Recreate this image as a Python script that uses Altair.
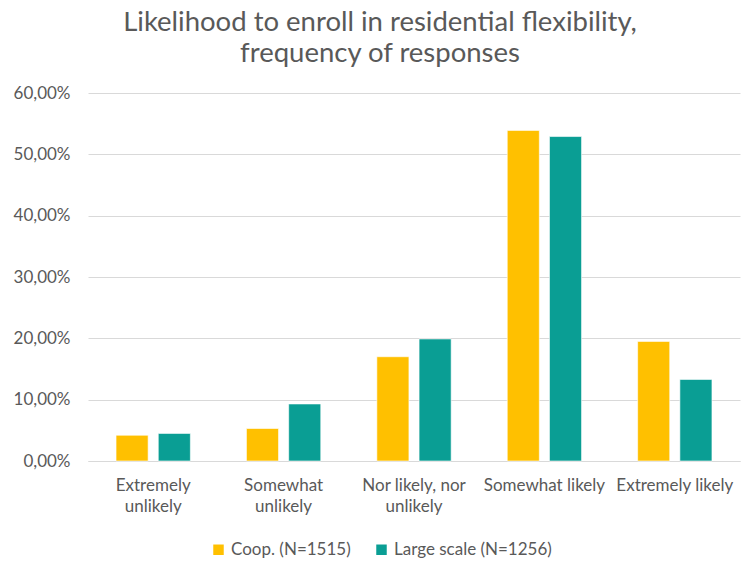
import altair as alt
import pandas as pd

categories = ["Extremely unlikely", "Somewhat unlikely", "Nor likely, nor unlikely",
              "Somewhat likely", "Extremely likely"]
label_lines = [["Extremely", "unlikely"], ["Somewhat", "unlikely"],
               ["Nor likely, nor", "unlikely"], ["Somewhat likely"], ["Extremely likely"]]
series = ["Coop. (N=1515)", "Large scale (N=1256)"]
coop = [0.042, 0.053, 0.170, 0.539, 0.195]
large = [0.045, 0.093, 0.199, 0.529, 0.133]
colors = ["#FFC000", "#0A9E94"]

rows = []
for i, c in enumerate(categories):
    rows.append({"category": c, "series": series[0], "value": coop[i]})
    rows.append({"category": c, "series": series[1], "value": large[i]})
df = pd.DataFrame(rows)

expr = ""
for c, lines in zip(categories, label_lines):
    arr = "[" + ",".join("'" + l + "'" for l in lines) + "]"
    expr += f"datum.value == '{c}' ? {arr} : "
expr += "datum.label"

font = "Lato"
chart = alt.Chart(df).mark_bar(stroke="white", strokeWidth=0.6).encode(
    x=alt.X("category:N", sort=categories, title=None,
            scale=alt.Scale(paddingInner=0.43, paddingOuter=0.215),
            axis=alt.Axis(labelAngle=0, labelExpr=expr, labelFont=font, labelFontSize=17,
                          labelColor="#595959", labelPadding=16, ticks=False,
                          domain=True, domainColor="#d9d9d9", labelLineHeight=21,
                          labelBaseline="top")),
    xOffset=alt.XOffset("series:N", sort=series,
                        scale=alt.Scale(paddingInner=0.24)),
    y=alt.Y("value:Q", title=None,
            scale=alt.Scale(domain=[0, 0.6]),
            axis=alt.Axis(values=[0, 0.1, 0.2, 0.3, 0.4, 0.5, 0.6],
                          labelExpr="replace(format(datum.value, '.2%'), '.', ',')",
                          labelFont=font, labelFontSize=17, labelColor="#595959",
                          labelPadding=18, ticks=False, domain=False,
                          gridColor="#d9d9d9", gridWidth=1)),
    color=alt.Color("series:N", sort=series,
                    scale=alt.Scale(domain=series, range=colors),
                    legend=alt.Legend(title=None, orient="none", direction="horizontal",
                                      legendX=122, legendY=448, symbolType="square",
                                      symbolSize=110, symbolStrokeWidth=0,
                                      labelFont=font, labelFontSize=17,
                                      labelColor="#595959", columnPadding=22,
                                      labelOffset=4)),
).properties(
    width=652, height=368,
    title=alt.Title(["Likelihood to enroll in residential flexibility,",
                     "frequency of responses"],
                    font=font, fontSize=27.5, fontWeight="normal", color="#595959",
                    anchor="middle", dx=-34, offset=17, lineHeight=31),
    padding={"left": 88, "top": 93, "right": 2, "bottom": 105},
    autosize=alt.AutoSizeParams(type="none"),
).configure_view(stroke=None)

chart.save("out.html", embed_options={"renderer": "svg", "actions": False})
